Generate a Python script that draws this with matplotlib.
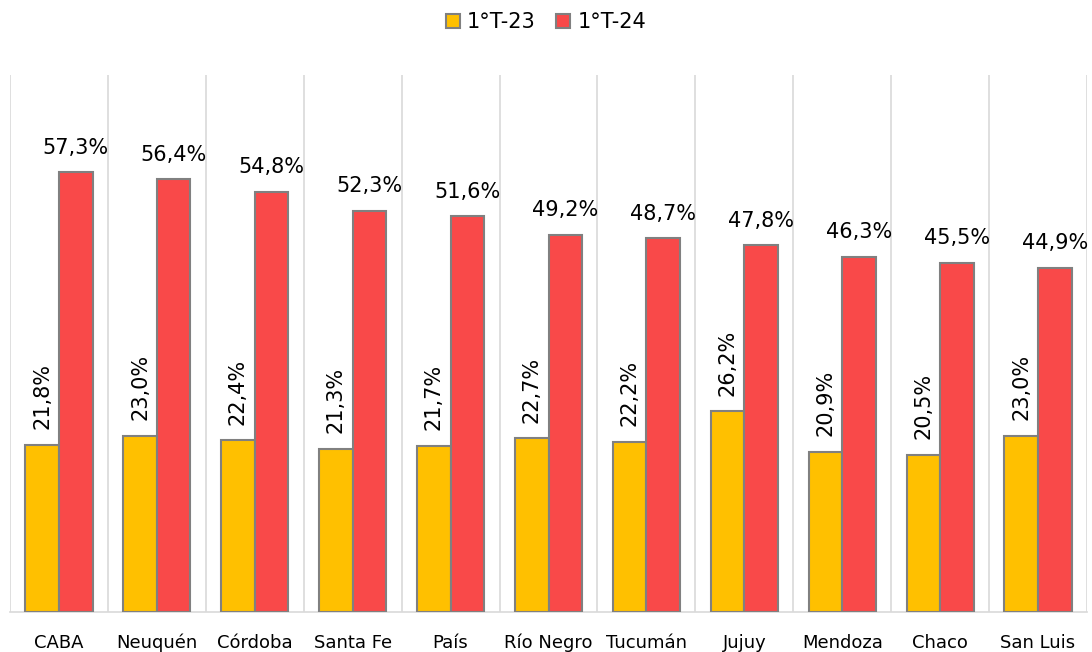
import matplotlib
matplotlib.use("Agg")
import matplotlib.pyplot as plt
import numpy as np

categories = ["CABA", "Neuquén", "Córdoba", "Santa Fe", "País", "Río Negro",
              "Tucumán", "Jujuy", "Mendoza", "Chaco", "San Luis"]
t23 = [21.8, 23.0, 22.4, 21.3, 21.7, 22.7, 22.2, 26.2, 20.9, 20.5, 23.0]
t24 = [57.3, 56.4, 54.8, 52.3, 51.6, 49.2, 48.7, 47.8, 46.3, 45.5, 44.9]
series_names = ["1°T-23", "1°T-24"]

plt.rcParams['font.family'] = ['DejaVu Sans']

fig = plt.figure(figsize=(10.92, 6.52), dpi=100)
ax = fig.add_axes([10/1092, 40/652, 1077/1092, 537/652])

x = np.arange(len(categories))
w = 0.343
yellow = "#FFC000"
red = "#F94949"
edge = "#808080"

b1 = ax.bar(x - w/2, t23, w, color=yellow, edgecolor=edge, linewidth=1.5, label=series_names[0], zorder=3)
b2 = ax.bar(x + w/2, t24, w, color=red, edgecolor=edge, linewidth=1.5, label=series_names[1], zorder=3)

def fmt(v):
    return f"{v:.1f}".replace(".", ",") + "%"

for xi, v in zip(x, t23):
    ax.annotate(fmt(v), (xi - w/2, v), xytext=(0, 11), textcoords="offset points",
                rotation=90, ha="center", va="bottom", fontsize=15, color="#000000")
for xi, v in zip(x, t24):
    ax.annotate(fmt(v), (xi + w/2, v), xytext=(0, 10.5), textcoords="offset points",
                ha="center", va="bottom", fontsize=15, color="#000000")

ax.set_xlim(-0.5, len(categories) - 0.5)
ax.set_ylim(0, 70)
ax.set_yticks([])
ax.set_xticks(x)
ax.set_xticklabels(categories, fontsize=13)
ax.tick_params(axis="x", length=0, pad=26)
for lbl in ax.get_xticklabels():
    lbl.set_verticalalignment("baseline")

for b in np.arange(-0.5, len(categories), 1.0):
    ax.axvline(b, color="#D9D9D9", linewidth=1.2, zorder=1)

for s in ["top", "right", "left"]:
    ax.spines[s].set_visible(False)
ax.spines["bottom"].set_color("#D9D9D9")
ax.spines["bottom"].set_linewidth(1.2)

fig.legend(handles=[b1, b2], labels=series_names, loc="center", bbox_to_anchor=(0.5, 1 - 22/652),
           ncol=2, frameon=False, fontsize=15, handlelength=0.65, handleheight=0.65,
           handletextpad=0.35, columnspacing=1.0)

fig.savefig("out.png", dpi=100)
